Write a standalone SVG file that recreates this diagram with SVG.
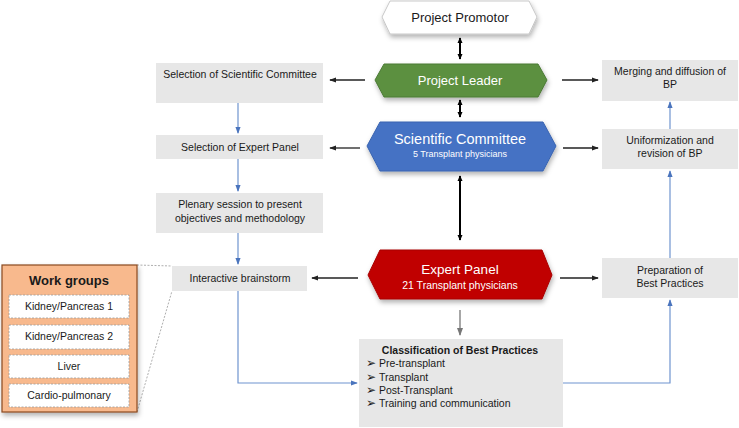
<svg xmlns="http://www.w3.org/2000/svg" width="739" height="428" viewBox="0 0 739 428">
<style>
text{font-family:"Liberation Sans",Arial,sans-serif;fill:#1a1a1a}
.box{fill:#e7e7e7}
.t{font-size:10.5px;text-anchor:middle}
.wt{font-size:10.5px;text-anchor:middle}
.blk{stroke:#222;stroke-width:1.3;fill:none}
.dbl{stroke:#000;stroke-width:2;fill:none}
.blue{stroke:#6f94cf;stroke-width:1.2;fill:none}
.dash{stroke:#999;stroke-width:0.8;stroke-dasharray:2 1.5;fill:none}
.wg{fill:#fff;stroke:#999;stroke-width:0.8;stroke-dasharray:2 1.5}
.hex{filter:url(#sh)}
</style>
<defs>
<filter id="sh" x="-10%" y="-30%" width="125%" height="170%">
<feDropShadow dx="1" dy="3" stdDeviation="2.5" flood-color="#000" flood-opacity="0.3"/>
</filter>
<marker id="ab" viewBox="0 0 8 8" refX="7" refY="4" markerWidth="7" markerHeight="7" markerUnits="userSpaceOnUse" orient="auto-start-reverse"><path d="M0,1 L8,4 L0,7 z" fill="#222"/></marker>
<marker id="ad" viewBox="0 0 8 8" refX="7" refY="4" markerWidth="6" markerHeight="6" markerUnits="userSpaceOnUse" orient="auto-start-reverse"><path d="M0,0.5 L8,4 L0,7.5 z" fill="#000"/></marker>
<marker id="au" viewBox="0 0 8 8" refX="7" refY="4" markerWidth="7" markerHeight="7" markerUnits="userSpaceOnUse" orient="auto"><path d="M0,1 L8,4 L0,7 z" fill="#4a74bd"/></marker>
<marker id="ag" viewBox="0 0 8 8" refX="7" refY="4" markerWidth="8" markerHeight="8" markerUnits="userSpaceOnUse" orient="auto"><path d="M0,1 L8,4 L0,7 z" fill="#777"/></marker>
</defs>

<g id="connectors">
<line class="dbl" x1="460" y1="38" x2="460" y2="59" marker-start="url(#ad)" marker-end="url(#ad)"/>
<line class="dbl" x1="460" y1="100" x2="460" y2="117" marker-start="url(#ad)" marker-end="url(#ad)"/>
<line class="dbl" x1="460" y1="176" x2="460" y2="240" marker-start="url(#ad)" marker-end="url(#ad)"/>
<line x1="460" y1="310" x2="460" y2="335" stroke="#777" stroke-width="1.3" marker-end="url(#ag)"/>
<line class="blk" x1="365" y1="80" x2="330" y2="80" marker-end="url(#ab)"/>
<line class="blk" x1="562" y1="80" x2="598" y2="80" marker-end="url(#ab)"/>
<line class="blk" x1="360" y1="148" x2="330" y2="148" marker-end="url(#ab)"/>
<line class="blk" x1="563" y1="148" x2="598" y2="148" marker-end="url(#ab)"/>
<line class="blk" x1="358" y1="278" x2="312" y2="278" marker-end="url(#ab)"/>
<line class="blk" x1="560" y1="278" x2="598" y2="278" marker-end="url(#ab)"/>
<line class="blue" x1="238" y1="103" x2="238" y2="133" marker-end="url(#au)"/>
<line class="blue" x1="238" y1="159" x2="238" y2="191" marker-end="url(#au)"/>
<line class="blue" x1="238" y1="233" x2="238" y2="264" marker-end="url(#au)"/>
<polyline class="blue" points="238,291 238,383 357,383" marker-end="url(#au)"/>
<polyline class="blue" points="563,383 670,383 670,300" marker-end="url(#au)"/>
<line class="blue" x1="670" y1="258" x2="670" y2="171" marker-end="url(#au)"/>
<line class="blue" x1="670" y1="129" x2="670" y2="102" marker-end="url(#au)"/>
<line class="dash" x1="137" y1="265" x2="172" y2="266"/>
<line class="dash" x1="137" y1="412" x2="172" y2="291"/>
</g>

<g id="project-promotor">
<polygon class="hex" points="382,17 390,1 529,1 537,17 529,34 390,34" fill="#fff" stroke="#bbb" stroke-width="0.8"/>
<text x="460" y="22" font-size="13" text-anchor="middle">Project Promotor</text>
</g>
<g id="project-leader">
<polygon class="hex" points="375,80 384,64 538,64 547,80 538,97 384,97" fill="#5b9040" stroke="#4c7a35" stroke-width="1"/>
<text x="460" y="85" font-size="13" text-anchor="middle" style="fill:#fff">Project Leader</text>
</g>
<g id="scientific-committee">
<polygon class="hex" points="367,146 380,122 543,122 556,146 543,171 380,171" fill="#4472c4" stroke="#3a64b0" stroke-width="1"/>
<text x="460" y="144" font-size="14.5" text-anchor="middle" style="fill:#fff">Scientific Committee</text>
<text x="460" y="157" font-size="9" text-anchor="middle" style="fill:#fff">5 Transplant physicians</text>
</g>
<g id="expert-panel">
<polygon class="hex" points="368,275 380,250 542,250 552,275 542,299 380,299" fill="#c00000" stroke="#a80000" stroke-width="1"/>
<text x="460" y="274" font-size="13.5" text-anchor="middle" style="fill:#fff">Expert Panel</text>
<text x="460" y="289" font-size="10.5" text-anchor="middle" style="fill:#fff">21 Transplant physicians</text>
</g>

<g id="selection-sc">
<rect class="box" x="156" y="63" width="167" height="40"/>
<text class="t" x="240" y="78">Selection of Scientific Committee</text>
</g>
<g id="selection-ep">
<rect class="box" x="156" y="135" width="167" height="24"/>
<text class="t" x="240" y="151">Selection of Expert Panel</text>
</g>
<g id="plenary">
<rect class="box" x="156" y="193" width="167" height="40"/>
<text class="t" x="240" y="208">Plenary session to present</text>
<text class="t" x="240" y="222">objectives and methodology</text>
</g>
<g id="brainstorm">
<rect class="box" x="172" y="266" width="135" height="25"/>
<text class="t" x="240" y="282">Interactive brainstorm</text>
</g>

<g id="merging">
<rect class="box" x="602" y="60" width="136" height="41"/>
<text class="t" x="670" y="75">Merging and diffusion of</text>
<text class="t" x="670" y="88">BP</text>
</g>
<g id="uniformization">
<rect class="box" x="602" y="129" width="136" height="40"/>
<text class="t" x="670" y="144">Uniformization and</text>
<text class="t" x="670" y="157">revision of BP</text>
</g>
<g id="preparation">
<rect class="box" x="602" y="258" width="136" height="40"/>
<text class="t" x="670" y="274">Preparation of</text>
<text class="t" x="670" y="287">Best Practices</text>
</g>

<g id="classification">
<rect class="box" x="359" y="339" width="204" height="88"/>
<text x="460" y="354" font-size="10.5" font-weight="bold" text-anchor="middle">Classification of Best Practices</text>
<g font-size="10.5">
<text x="366" y="367" font-size="12">➢</text><text x="379" y="367">Pre-transplant</text>
<text x="366" y="381" font-size="12">➢</text><text x="379" y="381">Transplant</text>
<text x="366" y="394" font-size="12">➢</text><text x="379" y="394">Post-Transplant</text>
<text x="366" y="407" font-size="12">➢</text><text x="379" y="407">Training and communication</text>
</g>
</g>

<g id="work-groups">
<rect x="2" y="265" width="135" height="147" fill="#f8b98d" stroke="#8a4a20" stroke-width="1.2" filter="url(#sh)"/>
<text x="69" y="285" font-size="13" font-weight="bold" text-anchor="middle">Work groups</text>
<rect class="wg" x="9" y="295" width="120" height="23"/>
<text class="wt" x="69" y="310">Kidney/Pancreas 1</text>
<rect class="wg" x="9" y="325" width="120" height="24"/>
<text class="wt" x="69" y="340">Kidney/Pancreas 2</text>
<rect class="wg" x="9" y="355" width="120" height="23"/>
<text class="wt" x="69" y="370">Liver</text>
<rect class="wg" x="9" y="384" width="120" height="23"/>
<text class="wt" x="69" y="399">Cardio-pulmonary</text>
</g>
</svg>
